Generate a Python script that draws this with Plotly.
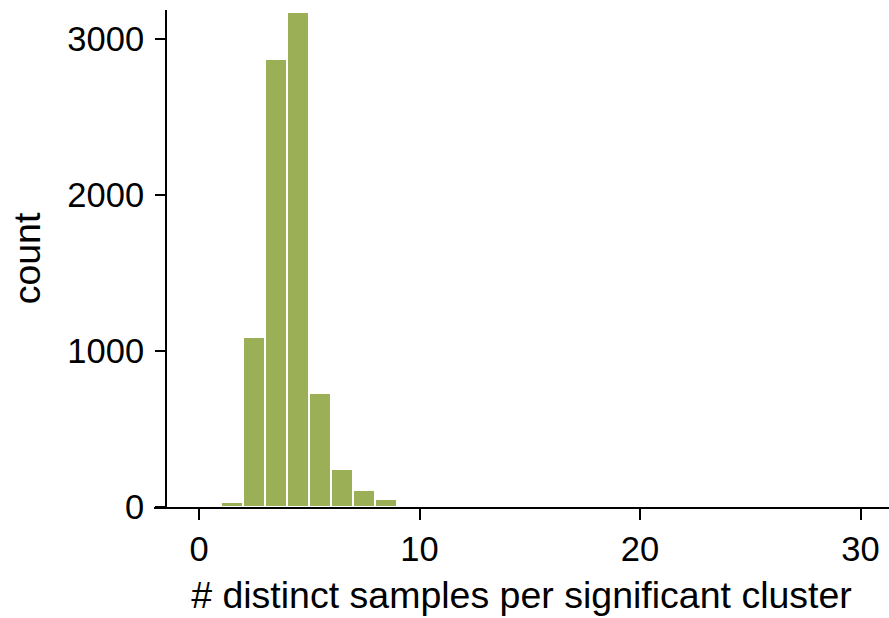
import plotly.graph_objects as go

# Histogram of distinct samples per significant cluster (bin width 1)
bin_left = [1, 2, 3, 4, 5, 6, 7, 8, 9]
counts = [34, 1088, 2870, 3172, 729, 242, 109, 51, 11]
bin_width = 1
bin_centers = [b + bin_width / 2 for b in bin_left]

x_ticks = [0, 10, 20, 30]
y_ticks = [0, 1000, 2000, 3000]

bar_color = "#9aaf56"
font_family = "Liberation Sans, Arial, sans-serif"

fig = go.Figure(
    go.Bar(
        x=bin_centers,
        y=counts,
        width=bin_width,
        marker=dict(color=bar_color, line=dict(color="white", width=2)),
    )
)

fig.update_layout(
    width=889,
    height=618,
    margin=dict(l=154, r=0, t=10, b=111),
    paper_bgcolor="white",
    plot_bgcolor="white",
    showlegend=False,
    font=dict(family=font_family, color="black"),
    bargap=0,
)

fig.update_xaxes(
    range=[-2.04, 31.29],
    tickvals=x_ticks,
    ticks="outside",
    ticklen=11,
    tickwidth=2,
    tickcolor="black",
    showline=True,
    linewidth=2,
    linecolor="black",
    showgrid=False,
    zeroline=False,
    tickfont=dict(size=34.5),
    title=dict(text="# distinct samples per significant cluster",
               font=dict(size=37.5), standoff=14),
)

fig.update_yaxes(
    range=[0, 3186],
    tickvals=y_ticks,
    anchor="free",
    position=12 / 735,
    ticks="outside",
    ticklen=10,
    tickwidth=2,
    tickcolor="black",
    showline=True,
    linewidth=2,
    linecolor="black",
    showgrid=False,
    zeroline=False,
    tickfont=dict(size=34.5),
    ticklabelstandoff=4,
    title=dict(text="count", font=dict(size=37.5), standoff=14),
)

fig.write_html("out.html")
